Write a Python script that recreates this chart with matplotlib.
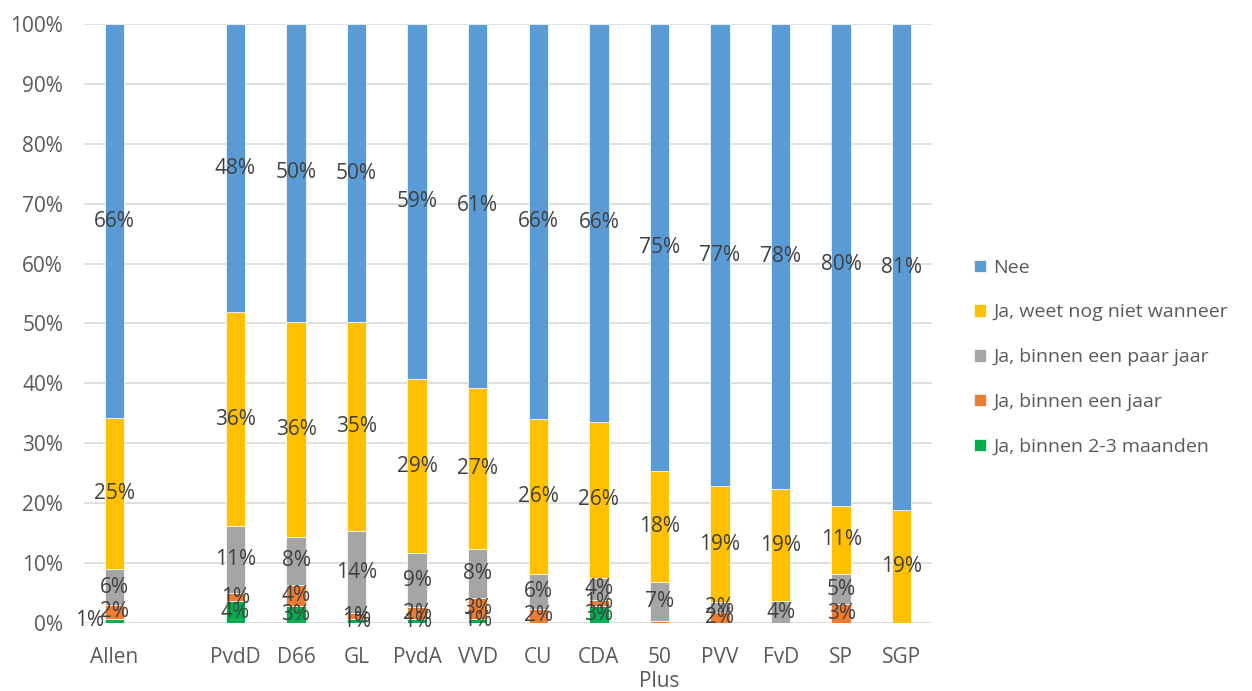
import numpy as np
import matplotlib
matplotlib.use("Agg")
import matplotlib.pyplot as plt

categories = ["Allen", "", "PvdD", "D66", "GL", "PvdA", "VVD", "CU", "CDA",
              "50\nPlus", "PVV", "FvD", "SP", "SGP"]
series_names = ["Ja, binnen 2-3 maanden", "Ja, binnen een jaar",
                "Ja, binnen een paar jaar", "Ja, weet nog niet wanneer", "Nee"]
binnen_2_3_maanden = [0.7, 0, 3.6, 2.8, 0.6, 0.6, 0.7, 0.0, 2.9, 0.0, 0.0, 0.0, 0.0, 0.0]
binnen_een_jaar    = [2.3, 0, 1.4, 3.6, 1.0, 2.0, 3.4, 2.4, 1.0, 0.3, 1.8, 0.0, 3.1, 0.0]
binnen_paar_jaar   = [6.0, 0, 11.2, 8.0, 13.7, 9.1, 8.2, 5.8, 3.6, 6.6, 1.7, 3.6, 5.1, 0.0]
weet_nog_niet      = [25.2, 0, 35.7, 35.9, 34.9, 29.0, 27.0, 25.9, 26.1, 18.4, 19.3, 18.8, 11.4, 18.8]
nee                = [65.8, 0, 48.1, 49.7, 49.8, 59.3, 60.7, 65.9, 66.4, 74.7, 77.2, 77.6, 80.4, 81.2]
yticks = [0, 10, 20, 30, 40, 50, 60, 70, 80, 90, 100]

colors = ["#00B050", "#ED7D31", "#A5A5A5", "#FFC000", "#5B9BD5"]

plt.rcParams['font.family'] = ['Open Sans', 'DejaVu Sans']
FS = 15

fig = plt.figure(figsize=(12.52, 6.91), dpi=100)
ax = fig.add_axes([0.0671, 0.0984, 0.6773, 0.8669])

data = [binnen_2_3_maanden, binnen_een_jaar, binnen_paar_jaar, weet_nog_niet, nee]
x = np.arange(len(categories))
bottom = np.zeros(len(categories))
bars = []
for vals, col, name in zip(data, colors, series_names):
    v = np.array(vals, dtype=float)
    b = ax.bar(x, v, bottom=bottom, width=0.32, color=col, label=name,
               edgecolor="white", linewidth=0.5, zorder=3)
    bars.append(b)
    for i, (xi, vi, bi) in enumerate(zip(x, v, bottom)):
        if round(vi) == 0:
            continue
        dx = -18 if (i == 0 and col == "#00B050") else 0
        ax.annotate(f"{vi:.0f}%", (xi, bi + vi / 2), xytext=(dx, 0),
                    textcoords="offset points", ha="center", va="center",
                    fontsize=FS, color="#404040", zorder=5)
    bottom += v

ax.set_xlim(-0.5, len(categories) - 0.5)
ax.set_ylim(0, 100)
ax.set_yticks(yticks)
ax.set_yticklabels([f"{t}%" for t in yticks])
ax.set_xticks(x)
ax.set_xticklabels(categories, linespacing=1.22)
ax.tick_params(axis="both", length=0, labelsize=FS, colors="#595959")
ax.tick_params(axis="y", pad=15)
ax.tick_params(axis="x", pad=17)
ax.grid(axis="y", color="#D9D9D9", linewidth=1.2, zorder=0)
for s in ax.spines.values():
    s.set_visible(False)

handles = [bars[i] for i in range(4, -1, -1)]
labels = [series_names[i] for i in range(4, -1, -1)]
leg = fig.legend(handles, labels, loc="center left", bbox_to_anchor=(0.764, 0.483),
                 frameon=False, fontsize=14, labelcolor="#595959",
                 handlelength=0.6, handleheight=0.6, handletextpad=0.4,
                 labelspacing=1.38)

fig.savefig("out.png", dpi=100)
